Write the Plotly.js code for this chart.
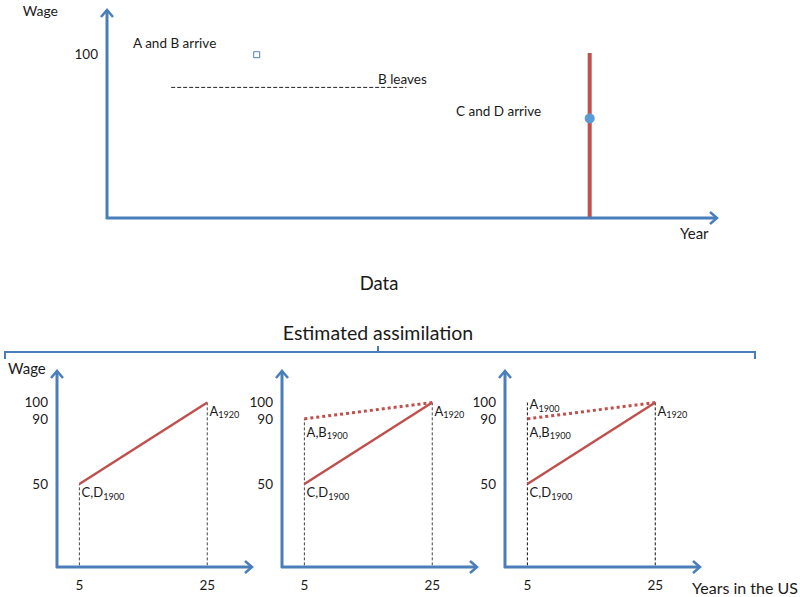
<!DOCTYPE html>
<html>
<head>
<meta charset="utf-8">
<script src="https://cdn.plot.ly/plotly-3.0.1.min.js"></script>
<style>
  html, body { margin: 0; padding: 0; background: #fff; }
  #chart { width: 800px; height: 597px; }
</style>
</head>
<body>
<div id="chart"></div>
<script>
// ---- data: top panel (schematic time line, wage) ----
var markX = [24.5], markY = [100];            // A and B arrive
var bLeaveX = [10.5, 49], bLeaveY = [80, 80]; // B leaves
var cdBarX = [79, 79], cdBarY = [0, 101];     // cross section
var cdDotX = [79], cdDotY = [61];             // C and D arrive

// ---- data: bottom panels (years in the US, wage) ----
var yearsUS = [5, 25];
var wageTicks = [50, 90, 100];
var cdToA = [50, 100];   // C,D 1900 -> A 1920
var abToA = [90, 100];   // A,B 1900 -> A 1920
var guideTop = [[50, 100], [90, 100], [100, 100]];

var W = 800, H = 597;
function px(x) { return x / W; }
function py(y) { return 1 - y / H; }

var BLUE = '#4a7ebb', RED = '#c0504d', TXT = '#1a1a1a';
var FONT = 'Lato, "Open Sans", sans-serif';

var traces = [];
var shapes = [];

// top panel traces
traces.push({x: bLeaveX, y: bLeaveY, xaxis: 'x', yaxis: 'y', mode: 'lines',
    line: {color: '#222', width: 1, dash: '4px,2px'}});
traces.push({x: cdBarX, y: cdBarY, xaxis: 'x', yaxis: 'y', mode: 'lines',
    line: {color: RED, width: 4}});
traces.push({x: cdDotX, y: cdDotY, xaxis: 'x', yaxis: 'y', mode: 'markers',
    marker: {color: '#5b9bd5', size: 10}});
traces.push({x: markX, y: markY, xaxis: 'x', yaxis: 'y', mode: 'markers',
    marker: {color: '#4f81bd', size: 6, symbol: 'square-open', line: {width: 1}}});

// axis arrows as shapes (pixel positions of the axis frame)
function P(x, y) { return px(x) + ',' + py(y); }
function axisArrows(ox, oy, xEnd, yEnd) {
    shapes.push({type: 'path', xref: 'paper', yref: 'paper', line: {color: BLUE, width: 3},
        path: 'M' + P(ox, oy + 1) + ' L' + P(ox, yEnd + 1) + ' M' + P(ox - 1, oy) + ' L' + P(xEnd - 1, oy)});
    shapes.push({type: 'path', xref: 'paper', yref: 'paper', line: {color: BLUE, width: 2.5},
        path: 'M' + P(ox - 6, yEnd + 8) + ' L' + P(ox, yEnd + 1) + ' L' + P(ox + 6, yEnd + 8) +
              ' M' + P(xEnd - 8, oy - 6) + ' L' + P(xEnd - 1, oy) + ' L' + P(xEnd - 8, oy + 6)});
}
axisArrows(107, 218, 718, 9);

// point labels of the bottom panels, drawn as text traces
function labels(xa, ya, xs, ys, ts) {
    traces.push({x: xs, y: ys, text: ts, xaxis: xa, yaxis: ya, mode: 'text',
        textposition: 'bottom right', cliponaxis: false,
        textfont: {family: FONT, size: 13, color: TXT}});
}

var panelLeft = [57, 282, 505];
var nudge = 0.35; // keeps labels just right of the guide lines
for (var p = 0; p < 3; p++) {
    var xa = 'x' + (p + 2), ya = 'y' + (p + 2);
    var gd = (p === 2) ? '#111' : '#444';
    traces.push({x: [yearsUS[0], yearsUS[0]], y: [0, guideTop[p][0]], xaxis: xa, yaxis: ya,
        mode: 'lines', line: {color: gd, width: 1, dash: '3px,2px'}});
    traces.push({x: [yearsUS[1], yearsUS[1]], y: [0, guideTop[p][1]], xaxis: xa, yaxis: ya,
        mode: 'lines', line: {color: gd, width: 1, dash: '3px,2px'}});
    if (p > 0) {
        traces.push({x: yearsUS, y: abToA, xaxis: xa, yaxis: ya, mode: 'lines',
            line: {color: RED, width: 3, dash: 'dot'}});
    }
    traces.push({x: yearsUS, y: cdToA, xaxis: xa, yaxis: ya, mode: 'lines',
        line: {color: RED, width: 2.5}});

    axisArrows(panelLeft[p], 567, panelLeft[p] + 196, 370);

    // label offsets below each point (wage units)
    var lx = [yearsUS[0] + nudge, yearsUS[1] + nudge];
    var ly = [cdToA[0] - 2, cdToA[1] - 2];
    var lt = ['C,D<sub>1900</sub>', 'A<sub>1920</sub>'];
    if (p > 0) { lx.push(yearsUS[0] + nudge); ly.push(abToA[0] - 5); lt.push('A,B<sub>1900</sub>'); }
    if (p === 2) { lx.push(yearsUS[0] + nudge); ly.push(guideTop[2][0] + 2); lt.push('A<sub>1900</sub>'); }
    labels(xa, ya, lx, ly, lt);
}

// free text on a hidden pixel overlay
var freeText = [
    ['Wage', 98, 12, 'middle left', 14, -40],
    ['A and B arrive', 133, 45, 'middle right', 13.5, 0],
    ['B leaves', 378, 81, 'middle right', 13.5, 0],
    ['C and D arrive', 456, 113, 'middle right', 13.5, 0],
    ['Year', 680, 235, 'middle right', 15, 0],
    ['Data', 379, 285, 'middle center', 18.5, 0],
    ['Estimated assimilation', 378, 335, 'middle center', 19.5, 0],
    ['Wage', 8, 370, 'middle right', 15, 0],
    ['Years in the US', 692, 590, 'middle right', 16, 0]
];
freeText.forEach(function (f) {
    traces.push({x: [f[1] + f[5]], y: [f[2]], text: [f[0]], xaxis: 'x5', yaxis: 'y5',
        mode: 'text', textposition: f[3], cliponaxis: false,
        textfont: {family: FONT, size: f[4], color: TXT}});
});

// bracket over the three panels
shapes.push({type: 'path', xref: 'paper', yref: 'paper', line: {color: BLUE, width: 2},
    path: 'M' + P(5, 359) + ' L' + P(5, 352) + ' L' + P(755, 352) + ' L' + P(755, 359) +
          ' M' + P(378, 352) + ' L' + P(378, 346)});

function ax(dom, rng, extra) {
    var a = {domain: dom, range: rng, showgrid: false, zeroline: false, showline: false,
        ticks: '', fixedrange: true, tickfont: {family: FONT, size: 13.5, color: TXT}};
    for (var k in extra) a[k] = extra[k];
    return a;
}
var yDom = [py(567), py(370)];
var xTicks = {tickvals: yearsUS, ticktext: yearsUS.map(String), ticklabelstandoff: 8};
var yT = {tickvals: wageTicks, ticktext: wageTicks.map(String), ticklabelstandoff: 8};

var layout = {
    width: W, height: H,
    margin: {l: 0, r: 0, t: 0, b: 0},
    paper_bgcolor: '#fff', plot_bgcolor: 'rgba(0,0,0,0)',
    showlegend: false,
    font: {family: FONT, color: TXT, size: 13},
    xaxis: ax([px(107), px(718)], [0, 100], {showticklabels: false}),
    yaxis: ax([py(218), py(9)], [0, 128], {tickvals: [100], ticktext: ['100'], ticklabelstandoff: 8}),
    xaxis2: ax([px(57), px(252)], [1.5, 32], Object.assign({anchor: 'y2'}, xTicks)),
    yaxis2: ax(yDom, [-1, 120], Object.assign({anchor: 'x2'}, yT)),
    xaxis3: ax([px(282), px(477)], [1.5, 32], Object.assign({anchor: 'y3'}, xTicks)),
    yaxis3: ax(yDom, [-1, 120], Object.assign({anchor: 'x3'}, yT)),
    xaxis4: ax([px(505), px(700)], [1.5, 32], Object.assign({anchor: 'y4'}, xTicks)),
    yaxis4: ax(yDom, [-1, 120], Object.assign({anchor: 'x4'}, yT)),
    xaxis5: ax([0, 1], [0, W], {visible: false, anchor: 'y5'}),
    yaxis5: ax([0, 1], [H, 0], {visible: false, anchor: 'x5'}),
    shapes: shapes
};

Plotly.newPlot('chart', traces, layout, {displayModeBar: false});
</script>
</body>
</html>
